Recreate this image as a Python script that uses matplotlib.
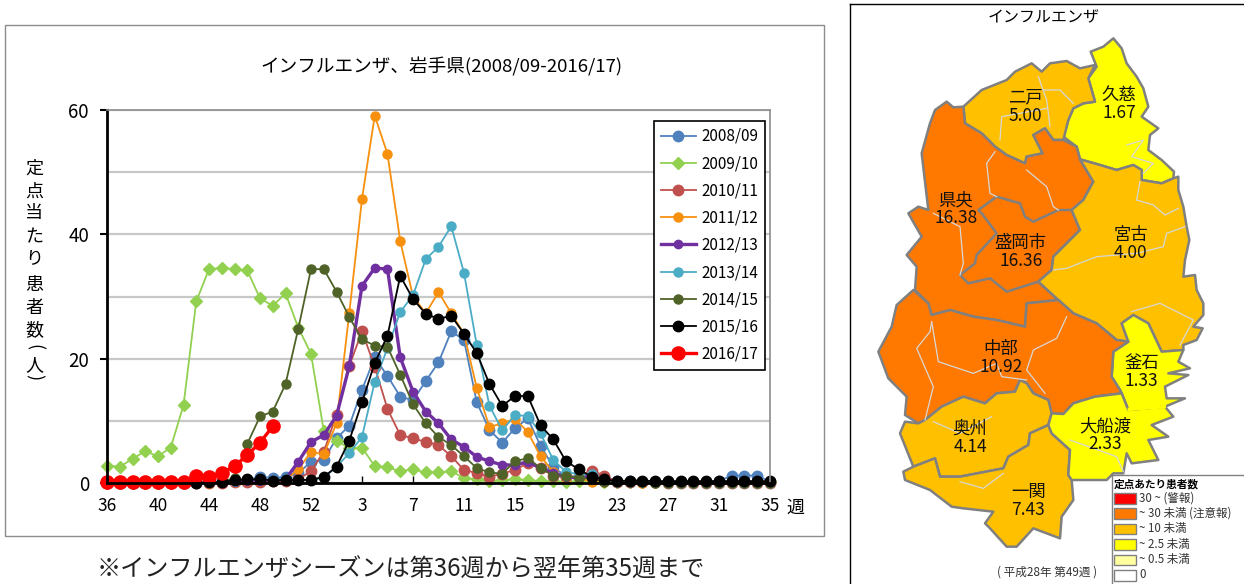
import matplotlib
matplotlib.use('Agg')
import matplotlib.pyplot as plt
from matplotlib.patches import Polygon, Rectangle

plt.rcParams['font.family'] = ['Noto Sans CJK JP', 'DejaVu Sans']

# weeks 36..53 then 1..35
weeks = list(range(36, 54)) + list(range(1, 36))
tick_idx = [0, 4, 8, 12, 16, 20, 24, 28, 32, 36, 40, 44, 48, 52]

s0809 = [0, 0, 0, 0, 0, 0, 0, 0, 0.1, 0.2, 0.3, 0.5, 1.0, 0.8, 1.0, 1.6, 3.4, 3.7,
         7.2, 9.2, 15, 20.2, 17.2, 13.9, 13.3, 16.4, 19.4, 24.4, 23, 13, 8.5, 6.5, 8.8, 10.4, 6,
         2.6, 1, 0.8, 1.5, 1, 0.3, 0.3, 0.2, 0.2, 0.2, 0.2, 0.2, 0.2, 0.3, 1.2, 1.2, 1.2, 0.2]
s0910 = [2.8, 2.6, 3.9, 5.1, 4.3, 5.7, 12.5, 29.2, 34.4, 34.6, 34.4, 34.2, 29.7, 28.5, 30.5, 25, 20.8, 8.4,
         6.8, 5.6, 5.7, 2.7, 2.5, 1.9, 2.2, 1.7, 1.7, 1.9, 0.8, 0.6, 0.3, 0.5, 0.6, 0.5, 0.3,
         0.3, 0.2, 0.3, 0.5, 0.1, 0.1, 0.1, 0.1, 0.1, 0.1, 0.1, 0.1, 0.1, 0.1, 0.1, 0.1, 0.1, 0.1]
s1011 = [0, 0, 0, 0, 0, 0, 0, 0, 0, 0, 0.1, 0.1, 0.2, 0.3, 0.3, 0.6, 1.9, 5,
         11, 18.8, 24.4, 18.7, 11.9, 7.7, 7.2, 6.6, 6.1, 4.3, 2.1, 1.6, 1, 1.5, 2.1, 3.2, 2.4,
         1.2, 0.9, 1.1, 2, 1.2, 0.2, 0.2, 0.2, 0.1, 0, 0, 0, 0, 0, 0, 0, 0, 0]
s1112 = [0, 0, 0, 0, 0, 0, 0, 0, 0, 0.1, 0.2, 0.3, 0.3, 0.3, 0.5, 2.2, 5, 4.6,
         9.6, 27.3, 45.7, 59.1, 52.9, 38.9, 30, 27.3, 30.7, 27.3, 24, 15.3, 9, 9.6, 10.3, 8.2, 4.3,
         1.8, 0.8, 0.8, 0.2, 0.1, 0.1, 0.1, 0, 0, 0, 0, 0, 0, 0, 0, 0, 0, 0]
s1213 = [0, 0, 0, 0, 0, 0, 0, 0, 0.1, 0.1, 0.2, 0.3, 0.4, 0.4, 0.6, 3.4, 6.6, 7.7,
         10.8, 18.8, 31.7, 34.6, 34.4, 20.2, 14.7, 11.5, 9.6, 7, 5.8, 4.2, 3.5, 2.9, 2.9, 3.4, 2.4,
         1.6, 1, 0.8, 1, 0.3, 0.1, 0.1, 0.1, 0, 0, 0, 0, 0, 0, 0, 0, 0, 0]
s1314 = [0, 0, 0, 0, 0, 0, 0, 0, 0.1, 0.1, 0.3, 0.7, 0.6, 0.5, 0.7, 0.5, 0.5, 0.8,
         2.6, 4.8, 7.4, 16.3, 21.7, 27.5, 30.2, 36, 38, 41.3, 33.8, 22.2, 12.4, 8.5, 10.9, 10.8, 8,
         3.7, 1.8, 1.4, 1.5, 0.4, 0.1, 0.1, 0.1, 0.1, 0, 0, 0, 0, 0, 0, 0, 0, 0]
s1415 = [0, 0, 0, 0, 0, 0, 0, 0, 0.1, 0.2, 0.8, 6.3, 10.7, 11.5, 15.9, 24.8, 34.4, 34.4,
         30.8, 26.7, 23.1, 22.1, 21.9, 17.4, 12.7, 9.6, 7.4, 6.1, 4.3, 2.4, 1.7, 1.5, 3.5, 4, 2.4,
         1.2, 1.2, 0.8, 0.7, 0.2, 0.2, 0.1, 0.1, 0, 0, 0, 0, 0, 0, 0, 0, 0, 0]
s1516 = [0, 0, 0, 0, 0, 0, 0, 0, 0.1, 0.1, 0.5, 0.6, 0.6, 0.4, 0.5, 0.5, 0.5, 1,
         2.6, 6.8, 13, 19.3, 23.7, 33.3, 29.6, 27.2, 26.4, 26.9, 24, 20.9, 15.9, 12.4, 14, 14, 9.3,
         7, 3.5, 2.2, 1, 0.6, 0.3, 0.4, 0.4, 0.3, 0.3, 0.3, 0.3, 0.3, 0.3, 0.3, 0.3, 0.3, 0.3]
s1617 = [0.1, 0.1, 0.1, 0.1, 0.2, 0.1, 0.1, 1.1, 1.0, 1.6, 2.7, 4.5, 6.5, 9.1]

series_names = ['2008/09', '2009/10', '2010/11', '2011/12', '2012/13',
                '2013/14', '2014/15', '2015/16', '2016/17']
series_vals = [s0809, s0910, s1011, s1112, s1213, s1314, s1415, s1516, s1617]
colors = ['#4F81BD', '#92D050', '#C0504D', '#F7900F', '#7030A0',
          '#4BACC6', '#4F6228', '#000000', '#FF0000']
markers = ['o', 'D', 'o', 'o', 'o', 'o', 'o', 'o', 'o']
msizes = [7.5, 6, 7.5, 6.5, 6, 6.5, 6.5, 7.5, 9.5]
lwidths = [1.3, 1.3, 1.3, 1.3, 2.4, 1.3, 1.3, 1.3, 2.4]

# map: outlines in 1/3 px, origin at (850, 0)
kuji = [(790, 115), (815, 145), (830, 190), (860, 230), (880, 265), (895, 320), (875, 350), (925, 385),
        (900, 405), (895, 450), (935, 480), (972, 515), (970, 535), (935, 550), (875, 540), (875, 510),
        (850, 495), (800, 510), (750, 495), (690, 478), (680, 440), (640, 410), (655, 360), (670, 325),
        (700, 310), (735, 305), (725, 270), (715, 235), (740, 200), (722, 155), (760, 140)]
ninohe = [(340, 320), (395, 270), (470, 240), (495, 215), (545, 190), (575, 215), (600, 190), (650, 183),
          (690, 205), (735, 195), (715, 235), (725, 270), (735, 305), (700, 310), (670, 325), (655, 360),
          (640, 420), (610, 420), (585, 385), (550, 405), (578, 460), (530, 470), (525, 490), (470, 465),
          (435, 440), (395, 400), (345, 370)]
kenoh = [(290, 305), (310, 322), (340, 320), (345, 370), (395, 400), (435, 440), (470, 465), (525, 490),
         (530, 470), (578, 460), (550, 405), (585, 385), (610, 420), (640, 420), (680, 440), (690, 478),
         (730, 545), (700, 600), (665, 630), (690, 690), (610, 770), (605, 810), (565, 845), (625, 900),
         (530, 910), (525, 980), (440, 960), (370, 950), (300, 930), (245, 945), (235, 910), (195, 870),
         (200, 800), (170, 765), (215, 710), (175, 640), (205, 620), (235, 630),
         (215, 460), (240, 370), (255, 330)]
morioka = [(440, 590), (510, 610), (525, 650), (550, 665), (625, 630), (665, 630), (690, 690), (610, 770),
           (605, 810), (565, 845), (470, 875), (420, 835), (355, 850), (330, 825), (375, 790), (380, 765),
           (440, 700), (395, 640), (385, 630)]
miyako = [(690, 478), (750, 495), (800, 510), (850, 495), (875, 510), (875, 540), (935, 550), (970, 535),
          (985, 530), (985, 570), (1000, 620), (1010, 680), (1018, 720), (1005, 780), (1000, 830),
          (1035, 825), (1040, 870), (1060, 910), (1060, 945), (1030, 980), (1058, 985), (1040, 1020),
          (1000, 1035), (1000, 1050), (935, 1055), (895, 970), (850, 945), (815, 970), (835, 1025),
          (800, 1020), (740, 970), (670, 940), (625, 900), (565, 845), (605, 810), (610, 770), (690, 690),
          (665, 630), (700, 600), (730, 545)]
kamaishi = [(850, 945), (895, 970), (935, 1055), (1000, 1050), (985, 1085), (1020, 1105), (955, 1120),
            (1015, 1125), (945, 1160), (950, 1195), (1005, 1195), (945, 1220), (835, 1230), (815, 1180),
            (810, 1170), (785, 1130), (790, 1055), (835, 1025), (815, 970)]
chubu = [(190, 870), (235, 910), (245, 945), (300, 930), (370, 950), (440, 960), (525, 980), (530, 910),
         (625, 900), (670, 940), (740, 970), (800, 1020), (835, 1025), (790, 1055), (785, 1130), (810, 1170),
         (815, 1180), (735, 1190), (670, 1210), (640, 1242), (605, 1240), (595, 1200), (550, 1180),
         (530, 1150), (510, 1140), (495, 1175), (440, 1180), (405, 1210), (340, 1190), (275, 1220),
         (225, 1260), (205, 1270), (165, 1245), (170, 1190), (115, 1135), (85, 1055), (125, 980), (140, 915)]
oshu = [(165, 1265), (205, 1270), (225, 1260), (275, 1220), (340, 1190), (405, 1210), (440, 1180), (495, 1175),
        (510, 1140), (530, 1150), (550, 1180), (595, 1200), (605, 1240), (595, 1275), (540, 1300), (535, 1335),
        (475, 1370), (460, 1405), (330, 1430), (270, 1430), (255, 1375), (190, 1400), (150, 1300)]
ichinoseki = [(160, 1415), (190, 1400), (255, 1375), (270, 1430), (330, 1430), (460, 1405), (475, 1370),
              (535, 1335), (540, 1300), (595, 1275), (605, 1300), (660, 1350), (655, 1425), (665, 1440),
              (670, 1500), (635, 1550), (630, 1615), (550, 1585), (500, 1640), (470, 1640), (420, 1585),
              (405, 1570), (430, 1535), (340, 1525), (305, 1520), (240, 1470), (165, 1440)]
ofunato = [(595, 1275), (605, 1240), (640, 1242), (670, 1210), (735, 1190), (815, 1180), (835, 1230), (945, 1220),
           (970, 1250), (905, 1275), (955, 1310), (895, 1320), (925, 1380), (845, 1390), (830, 1360), (820, 1420),
           (790, 1420), (770, 1440), (665, 1440), (655, 1425), (660, 1350), (605, 1300)]
inner_lines = [
    [(565, 230), (590, 300), (600, 380)], [(580, 270), (630, 270), (670, 310)],
    [(450, 420), (455, 350), (590, 325)], [(435, 455), (410, 490), (420, 580), (440, 590)],
    [(530, 510), (590, 560), (610, 620), (625, 630)], [(250, 640), (330, 680), (340, 790), (330, 825)],
    [(830, 435), (880, 420), (845, 470), (910, 490), (880, 520)], [(860, 600), (870, 545)],
    [(860, 600), (910, 615), (945, 645), (985, 625)],
    [(1005, 680), (950, 700), (940, 740), (860, 760), (740, 770), (650, 805), (610, 810)],
    [(245, 965), (240, 995), (200, 1045), (250, 1160), (225, 1260)],
    [(245, 965), (265, 1085), (370, 1120), (440, 1090), (455, 1130), (530, 1140)],
    [(650, 950), (620, 1015), (550, 1050), (530, 1110), (585, 1180)],
    [(250, 1265), (330, 1300), (425, 1250)], [(330, 1445), (400, 1465), (460, 1420)],
    [(660, 1320), (800, 1370), (820, 1415)], [(845, 935), (930, 910), (1030, 960), (990, 1035)],
]
yellow_seam = [(838, 1228), (943, 1220)]

legend_colors = {'red': '#FF0000', 'orange': '#FF7800', 'amber': '#FFC000', 'yellow': '#FFFF00',
                 'pale': '#FFFFA0', 'white': '#FFFFFF'}
regions = [kuji, ninohe, kenoh, morioka, miyako, kamaishi, chubu, oshu, ichinoseki, ofunato]
region_colors = ['yellow', 'amber', 'orange', 'orange', 'amber', 'yellow', 'orange', 'amber', 'amber', 'yellow']
region_names = ['久慈', '二戸', '県央', '盛岡市', '宮古', '釜石', '中部', '奥州', '一関', '大船渡']
region_vals = ['1.67', '5.00', '16.38', '16.36', '4.00', '1.33', '10.92', '4.14', '7.43', '2.33']
label_pos = [(807, 312), (527, 320), (317, 627), (512, 755), (842, 732), (875, 1117), (452, 1073),
             (360, 1314), (535, 1503), (765, 1305)]
key_labels = ['30 ~ (警報)', '~ 30 未満 (注意報)', '~ 10 未満', '~ 2.5 未満', '~ 0.5 未満', '0']
key_colors = ['red', 'orange', 'amber', 'yellow', 'pale', 'white']

ylabel_chars = ['定', '点', '当', 'た', 'り', '患', '者', '数', '(', '人', ')']
ylabel_rows = [169, 192, 213, 237, 258, 285, 308, 330, 347, 365, 377]


def to_px(pts):
    return [(850 + x / 3, y / 3) for x, y in pts]


fig = plt.figure(figsize=(12.44, 5.84), dpi=100, facecolor='white')

bg = fig.add_axes([0, 0, 1, 1])
bg.set_xlim(0, 1244)
bg.set_ylim(584, 0)
bg.axis('off')

# left panel frame and notes
bg.add_patch(Rectangle((5, 25), 819, 511, fc='white', ec='#8C8C8C', lw=1))
bg.text(441, 67, 'インフルエンザ、岩手県(2008/09-2016/17)', ha='center', va='center', fontsize=13.4)
bg.text(401, 570, '※インフルエンザシーズンは第36週から翌年第35週まで', ha='center', va='center',
        fontsize=17.4, color='#222222')
for ch, y in zip(ylabel_chars, ylabel_rows):
    rot = -90 if ch in '()' else 0
    bg.text(34, y, ch, ha='center', va='center', fontsize=13, rotation=rot)
bg.text(795, 508, '週', ha='center', va='center', fontsize=13)

# right panel
bg.plot([850, 850], [4, 584], color='black', lw=1)
bg.plot([850, 1244], [4, 4], color='black', lw=1)
bg.text(1044, 18, 'インフルエンザ', ha='center', va='center', fontsize=11.5)

for pts, c in zip(regions, region_colors):
    bg.add_patch(Polygon(to_px(pts), closed=True, fc=legend_colors[c], ec='#808080', lw=1.8, joinstyle='round'))
for line in inner_lines:
    xs, ys = zip(*to_px(line))
    bg.plot(xs, ys, color='#D8D8D8', lw=0.9)
xs, ys = zip(*to_px(yellow_seam))
bg.plot(xs, ys, color=legend_colors['yellow'], lw=2.5)
for (x, y), name, val in zip(to_px(label_pos), region_names, region_vals):
    bg.text(x, y - 9, name, ha='center', va='center', fontsize=12.5, color='#111111')
    bg.text(x, y + 9, val, ha='center', va='center', fontsize=12.5, color='#111111')

# map key
bg.add_patch(Rectangle((1112, 475), 133, 110, fc='white', ec='#808080', lw=1, zorder=5))
bg.text(1114, 484, '定点あたり患者数', ha='left', va='center', fontsize=7.7, fontweight='bold', zorder=6)
for i, (lab, c) in enumerate(zip(key_labels, key_colors)):
    y = 493 + i * 15.4
    bg.add_patch(Rectangle((1114, y), 22, 10.5, fc=legend_colors[c], ec='#808080', lw=1, zorder=6))
    bg.text(1139, y + 5, lab, ha='left', va='center', fontsize=8.3, color='#333333', zorder=6)
bg.text(1047, 572, '( 平成28年 第49週 )', ha='center', va='center', fontsize=8.4, color='#333333', zorder=6)

# line chart
ax = fig.add_axes([107 / 1244, 1 - 483 / 584, (770 - 107) / 1244, (483 - 110) / 584])
ax.set_xlim(0, len(weeks) - 1)
ax.set_ylim(0, 60)
ax.patch.set_alpha(0)
ax.set_axisbelow(True)

x_idx = list(range(len(weeks)))
for name, vals, c, m, ms, lw in zip(series_names, series_vals, colors, markers, msizes, lwidths):
    ax.plot(x_idx[:len(vals)], vals, color=c, marker=m, ms=ms, lw=lw, mec=c, label=name, clip_on=False)

ax.set_yticks([0, 20, 40, 60])
ax.set_yticks([10, 30, 50], minor=True)
ax.yaxis.grid(True, which='both', color='#C8C8C8', lw=1.6)
ax.tick_params(axis='y', which='major', direction='out', length=5, width=1.5, labelsize=13.5, pad=8)
ax.tick_params(axis='y', which='minor', length=0)

ax.set_xticks(tick_idx)
ax.set_xticklabels([str(weeks[i]) for i in tick_idx])
ax.tick_params(axis='x', direction='in', length=5, width=1, labelsize=12.5, pad=10)

for side in ['top', 'right']:
    ax.spines[side].set_color('#8C8C8C')
    ax.spines[side].set_linewidth(1.2)
ax.spines['left'].set_linewidth(2)
ax.spines['bottom'].set_linewidth(2)

leg = ax.legend(loc='upper left', bbox_to_anchor=(654 / 1244, 1 - 121 / 584), bbox_transform=fig.transFigure,
                fontsize=11, frameon=True, fancybox=False, edgecolor='black', framealpha=1,
                borderaxespad=0, borderpad=0.45, labelspacing=0.67, handlelength=2.3, handletextpad=0.35)
leg.get_frame().set_linewidth(1.2)

fig.savefig('out.png', dpi=100)
